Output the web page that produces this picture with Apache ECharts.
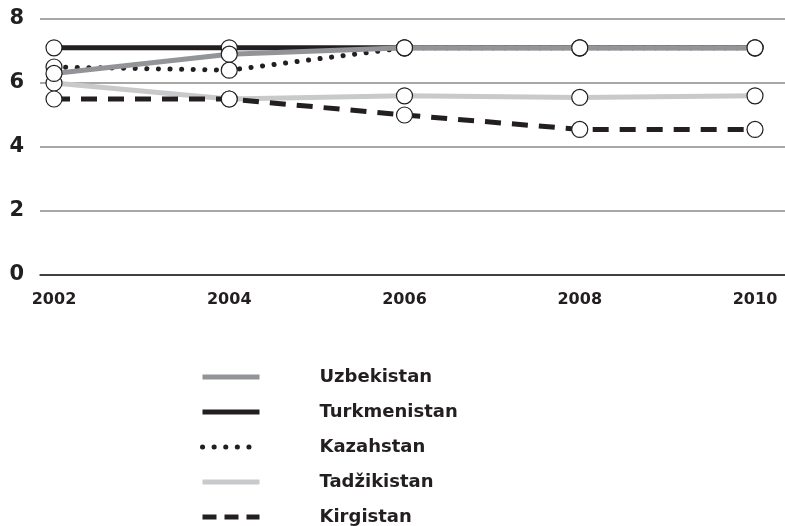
<!DOCTYPE html>
<html>
<head>
<meta charset="utf-8">
<script src="https://cdn.jsdelivr.net/npm/echarts@6/dist/echarts.min.js"></script>
<style>
  html, body { margin: 0; padding: 0; background: #fff; }
  #chart { width: 785px; height: 526px; }
</style>
</head>
<body>
<div id="chart"></div>
<script>
// years on the x axis
var years = ['2002', '2004', '2006', '2008', '2010']
// y ticks
var yTicks = [0, 2, 4, 6, 8]

var uzbekistan = [6.3, 6.9, 7.1, 7.1, 7.1]
var turkmenistan = [7.1, 7.1, 7.1, 7.1, 7.1]
var kazahstan = [6.5, 6.4, 7.1, 7.1, 7.1]
var tadzikistan = [6.0, 5.5, 5.6, 5.55, 5.6]
var kirgistan = [5.5, 5.5, 5.0, 4.55, 4.55]

var font = 'DejaVu Sans'
var ink = '#231f20'
var dotted = [0.1, 11.5]
var dashed = [16, 11]

var chart = echarts.init(document.getElementById('chart'))

function lineSeries(name, data, color, type, z) {
  return {
    name: name,
    type: 'line',
    xAxisIndex: 1,
    yAxisIndex: 1,
    data: data,
    z: z,
    symbol: 'circle',
    symbolSize: 16,
    showSymbol: true,
    animation: false,
    itemStyle: {
      color: '#fff',
      borderColor: ink,
      borderWidth: 1.2
    },
    lineStyle: {
      color: color,
      width: 5,
      type: type,
      cap: type === dotted ? 'round' : 'butt'
    }
  }
}

var option = {
  backgroundColor: '#fff',
  animation: false,
  grid: [
    // background grid with the split lines
    { left: 40, right: 0, top: 19, bottom: 251 },
    // plotting grid
    { left: 54, right: 30, top: 19, bottom: 251 }
  ],
  xAxis: [
    {
      gridIndex: 0,
      type: 'value',
      min: 0,
      max: 1,
      axisLine: { show: true, lineStyle: { color: ink, width: 1.5 } },
      axisTick: { show: false },
      axisLabel: { show: false },
      splitLine: { show: false }
    },
    {
      gridIndex: 1,
      type: 'category',
      data: years,
      boundaryGap: false,
      axisLine: { show: false },
      axisTick: { show: false },
      axisLabel: {
        margin: 17,
        color: ink,
        fontFamily: font,
        fontWeight: 'bold',
        fontSize: 16
      },
      splitLine: { show: false }
    }
  ],
  yAxis: [
    {
      gridIndex: 0,
      type: 'value',
      min: yTicks[0],
      max: yTicks[yTicks.length - 1],
      interval: 2,
      axisLine: { show: false },
      axisTick: { show: false },
      axisLabel: {
        margin: 16,
        color: ink,
        fontFamily: font,
        fontWeight: 'bold',
        fontSize: 21
      },
      splitLine: { show: true, lineStyle: { color: '#8a8a8a', width: 1.5 } }
    },
    {
      gridIndex: 1,
      type: 'value',
      min: yTicks[0],
      max: yTicks[yTicks.length - 1],
      interval: 2,
      show: false
    }
  ],
  legend: {
    orient: 'vertical',
    left: 200,
    top: 368,
    height: 158,
    padding: 0,
    itemWidth: 57,
    itemHeight: 14,
    itemGap: 17,
    selectedMode: false,
    itemStyle: { opacity: 0 },
    lineStyle: { width: 5 },
    textStyle: {
      color: ink,
      fontFamily: font,
      fontWeight: 'bold',
      fontSize: 18,
      padding: [0, 0, 0, 55]
    },
    data: [
      { name: 'Uzbekistan' },
      { name: 'Turkmenistan' },
      { name: 'Kazahstan', lineStyle: { type: [0.1, 11.5], cap: 'round', width: 5 } },
      { name: 'Tadžikistan' },
      { name: 'Kirgistan', lineStyle: { type: [14, 8], width: 5 } }
    ]
  },
  series: [
    lineSeries('Uzbekistan', uzbekistan, '#929497', 'solid', 5),
    lineSeries('Turkmenistan', turkmenistan, ink, 'solid', 3),
    lineSeries('Kazahstan', kazahstan, ink, dotted, 2),
    lineSeries('Tadžikistan', tadzikistan, '#c8c9cb', 'solid', 2),
    lineSeries('Kirgistan', kirgistan, ink, dashed, 2)
  ]
}
chart.setOption(option)
</script>
</body>
</html>
